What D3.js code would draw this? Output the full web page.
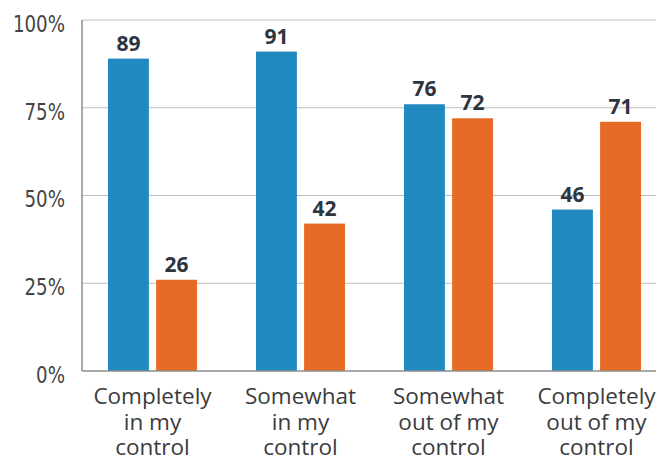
<!DOCTYPE html>
<html><head><meta charset="utf-8">
<script src="https://cdn.jsdelivr.net/npm/d3@7"></script>
<style>body{margin:0;background:#fff;} svg{display:block;}</style>
</head><body>
<svg id="c" width="656" height="463"></svg>
<script>
const categories = [["Completely","in my","control"],["Somewhat","in my","control"],["Somewhat","out of my","control"],["Completely","out of my","control"]];
const seriesNames = ["a","b"];
const seriesA = [89, 91, 76, 46];
const seriesB = [26, 42, 72, 71];
const yTicks = [0, 25, 50, 75, 100];
const colors = ["#2089c0", "#e56a26"];

const svg = d3.select("#c");
const x0 = d3.scaleBand().domain(d3.range(categories.length)).range([78.5, 670.5]).padding(0);
const x1 = d3.scaleBand().domain(seriesNames).range([29.5, 118.5]).paddingInner(0.15);
const y = d3.scaleLinear().domain([0, 100]).range([371, 20]);

// gridlines
svg.append("g").selectAll("line").data(yTicks.filter(t => t > 0)).join("line")
  .attr("x1", 82).attr("x2", 656).attr("y1", d => y(d)).attr("y2", d => y(d))
  .attr("stroke", "#bdbdbd").attr("stroke-width", 1.2);

// y tick labels
svg.append("g").selectAll("text").data(yTicks).join("text")
  .attr("transform", d => `translate(65,${y(d) + 4}) scale(0.88,1)`)
  .attr("text-anchor", "end").attr("dominant-baseline", "central")
  .style("font-family", "'Liberation Sans Narrow', 'DejaVu Sans Condensed', sans-serif")
  .style("font-size", "23px").attr("fill", "#444")
  .text(d => d + "%");

// bars
const data = categories.map((c, i) => ({i, vals: [seriesA[i], seriesB[i]]}));
const g = svg.append("g").selectAll("g").data(data).join("g")
  .attr("transform", d => `translate(${x0(d.i)},0)`);
g.selectAll("rect").data(d => d.vals.map((v, k) => ({k, v}))).join("rect")
  .attr("x", d => x1(seriesNames[d.k])).attr("width", x1.bandwidth())
  .attr("y", d => y(d.v)).attr("height", d => y(0) - y(d.v))
  .attr("fill", d => colors[d.k]);
g.selectAll("text.v").data(d => d.vals.map((v, k) => ({k, v}))).join("text")
  .attr("class", "v")
  .attr("x", d => x1(seriesNames[d.k]) + x1.bandwidth() / 2).attr("y", d => y(d.v) - 8)
  .attr("text-anchor", "middle")
  .style("font-family", "'Open Sans', sans-serif").style("font-weight", "bold").style("font-size", "21px")
  .attr("fill", "#2c3440").text(d => d.v);

// axes lines
svg.append("line").attr("x1", 82).attr("x2", 82).attr("y1", 20).attr("y2", 371).attr("stroke", "#8c8c8c").attr("stroke-width", 1.5);
svg.append("line").attr("x1", 82).attr("x2", 656).attr("y1", 371).attr("y2", 371).attr("stroke", "#8c8c8c").attr("stroke-width", 1.5);

// category labels
const cl = svg.append("g").selectAll("text").data(categories).join("text")
  .attr("x", (d, i) => x0(i) + x0.bandwidth() / 2).attr("y", 404)
  .attr("text-anchor", "middle")
  .style("font-family", "'Open Sans', sans-serif").style("font-size", "22.5px").attr("fill", "#3b3b3b");
cl.selectAll("tspan").data(d => d).join("tspan")
  .attr("x", function() { return d3.select(this.parentNode).attr("x"); })
  .attr("dy", (d, j) => j === 0 ? 0 : 25.5).text(d => d);
</script>
</body></html>
